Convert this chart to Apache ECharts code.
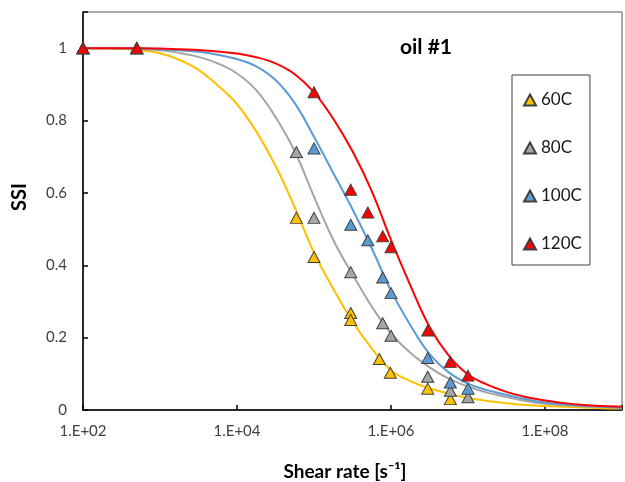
<!DOCTYPE html>
<html>
<head>
<meta charset="utf-8">
<script src="https://cdn.jsdelivr.net/npm/echarts@6/dist/echarts.min.js"></script>
<style>
  html, body { margin: 0; padding: 0; background: #fff; }
  #chart-container { width: 625px; height: 482px; }
</style>
</head>
<body>
<div id="chart-container"></div>
<script>
let dom = document.getElementById("chart-container");
let myChart = echarts.init(dom, null, { renderer: "canvas" });

// series names and colours
const tempNames = ["60C", "80C", "100C", "120C"];
const tempColors = ["#FFC000", "#A5A5A5", "#5B9BD5", "#FF0000"];

// measured points (shear rate, SSI)
const rate60 = [100, 500, 59000, 100000, 300000, 300000, 706000, 980000, 3000000, 5900000];
const ssi60 = [1, 1, 0.531, 0.423, 0.268, 0.249, 0.141, 0.103, 0.059, 0.03];
const rate80 = [100, 500, 59000, 100000, 300000, 780000, 1000000, 3000000, 5900000, 10000000];
const ssi80 = [1, 1, 0.713, 0.531, 0.381, 0.24, 0.205, 0.092, 0.053, 0.035];
const rate100 = [100, 500, 100000, 300000, 500000, 780000, 1000000, 3000000, 5900000, 10000000];
const ssi100 = [1, 1, 0.723, 0.512, 0.469, 0.366, 0.323, 0.144, 0.076, 0.059];
const rate120 = [100, 500, 100000, 300000, 500000, 780000, 1000000, 3000000, 5900000, 10000000];
const ssi120 = [1, 1, 0.878, 0.609, 0.546, 0.48, 0.45, 0.22, 0.133, 0.095];

// fitted curves, every quarter decade
const fitRate = [100, 178, 316, 562, 1000, 1778, 3162, 5623, 10000, 17783, 31623, 56234,
  100000, 177828, 316228, 562341, 1000000, 1778279, 3162278, 5623413, 10000000,
  17782794, 31622777, 56234133, 100000000, 177827941, 316227766, 562341325, 1000000000];
const fit60 = [1, 0.999, 0.998, 0.994, 0.986, 0.968, 0.94, 0.897, 0.845, 0.77, 0.675, 0.56,
  0.435, 0.335, 0.245, 0.17, 0.11, 0.08, 0.06, 0.045, 0.033,
  0.025, 0.019, 0.014, 0.011, 0.009, 0.007, 0.005, 0.004];
const fit80 = [1, 1, 0.999, 0.997, 0.994, 0.987, 0.976, 0.958, 0.93, 0.884, 0.81, 0.715,
  0.59, 0.47, 0.375, 0.286, 0.212, 0.158, 0.118, 0.087, 0.065,
  0.048, 0.036, 0.025, 0.017, 0.013, 0.01, 0.008, 0.006];
const fit100 = [1, 1, 1, 0.999, 0.997, 0.994, 0.99, 0.982, 0.97, 0.95, 0.912, 0.848,
  0.755, 0.655, 0.555, 0.447, 0.33, 0.235, 0.155, 0.104, 0.073,
  0.055, 0.042, 0.03, 0.021, 0.016, 0.012, 0.009, 0.006];
const fit120 = [1, 1, 1, 1, 0.999, 0.997, 0.995, 0.991, 0.985, 0.975, 0.958, 0.928,
  0.878, 0.805, 0.715, 0.605, 0.47, 0.345, 0.23, 0.15, 0.098,
  0.07, 0.05, 0.036, 0.026, 0.019, 0.014, 0.011, 0.009];

const pointRates = [rate60, rate80, rate100, rate120];
const pointSsi = [ssi60, ssi80, ssi100, ssi120];
const fits = [fit60, fit80, fit100, fit120];

const zip = (xs, ys) => xs.map((x, i) => [x, ys[i]]);

let series = [];
fits.forEach((f, i) => {
  series.push({
    name: tempNames[i] + " fit",
    type: "line",
    data: zip(fitRate, f),
    smooth: 0.4,
    showSymbol: false,
    silent: true,
    z: 2 + i,
    lineStyle: { color: tempColors[i], width: 2 },
  });
});
pointSsi.forEach((s, i) => {
  series.push({
    name: tempNames[i],
    type: "scatter",
    data: zip(pointRates[i], s),
    symbol: "triangle",
    symbolSize: [12, 11],
    z: 10 + i,
    itemStyle: { color: tempColors[i], borderColor: "#404040", borderWidth: 1, opacity: 1 },
  });
});

const labelFont = "Lato, 'Open Sans', sans-serif";

let option = {
  backgroundColor: "#fff",
  animation: false,
  grid: {
    left: 83,
    right: 0,
    top: 12,
    bottom: 72,
    show: true,
    borderColor: "#555",
    borderWidth: 1,
  },
  legend: {
    data: tempNames,
    orient: "vertical",
    left: 512,
    top: 75,
    padding: [15, 8, 11, 11],
    itemGap: 28,
    itemWidth: 12,
    itemHeight: 11,
    borderColor: "#404040",
    borderWidth: 1,
    backgroundColor: "#fff",
    textStyle: { fontFamily: labelFont, fontSize: 17, color: "#1a1a1a", lineHeight: 20 },
  },
  xAxis: {
    type: "log",
    logBase: 10,
    min: 100,
    max: 1000000000,
    interval: 2,
    axisLine: { lineStyle: { color: "#000", width: 1.5 } },
    axisTick: { inside: true, length: 5, lineStyle: { color: "#000", width: 1.5 } },
    minorTick: { show: false },
    splitLine: { show: false },
    axisLabel: {
      margin: 14,
      fontFamily: labelFont,
      fontSize: 15,
      color: "#404040",
      formatter: (v) => {
        const e = Math.round(Math.log10(v));
        return e % 2 === 0 && e < 9 ? "1.E+" + String(e).padStart(2, "0") : "";
      },
    },
  },
  yAxis: {
    type: "value",
    min: 0,
    max: 1.1,
    interval: 0.2,
    axisLine: { show: true, lineStyle: { color: "#000", width: 1.5 } },
    axisTick: { show: true, inside: true, length: 5, lineStyle: { color: "#000", width: 1.5 } },
    splitLine: { show: false },
    axisLabel: {
      margin: 16,
      fontFamily: labelFont,
      fontSize: 15,
      color: "#404040",
      formatter: (v) => (v > 1.05 ? "" : String(+v.toFixed(1))),
    },
  },
  graphic: [
    {
      type: "text",
      x: 20,
      y: 197,
      rotation: Math.PI / 2,
      style: {
        text: "SSI",
        font: "bold 20px " + labelFont,
        fill: "#000",
        textAlign: "center",
        textVerticalAlign: "middle",
      },
    },
    {
      type: "text",
      x: 345,
      y: 472,
      style: {
        text: "Shear rate [s\u207B\u00B9]",
        font: "bold 19px " + labelFont,
        fill: "#000",
        textAlign: "center",
        textVerticalAlign: "middle",
      },
    },
    {
      type: "text",
      x: 426,
      y: 47,
      style: {
        text: "oil #1",
        font: "bold 21px " + labelFont,
        fill: "#000",
        textAlign: "center",
        textVerticalAlign: "middle",
      },
    },
  ],
  series: series,
};

myChart.setOption(option);
window.addEventListener("resize", myChart.resize);
</script>
</body>
</html>
